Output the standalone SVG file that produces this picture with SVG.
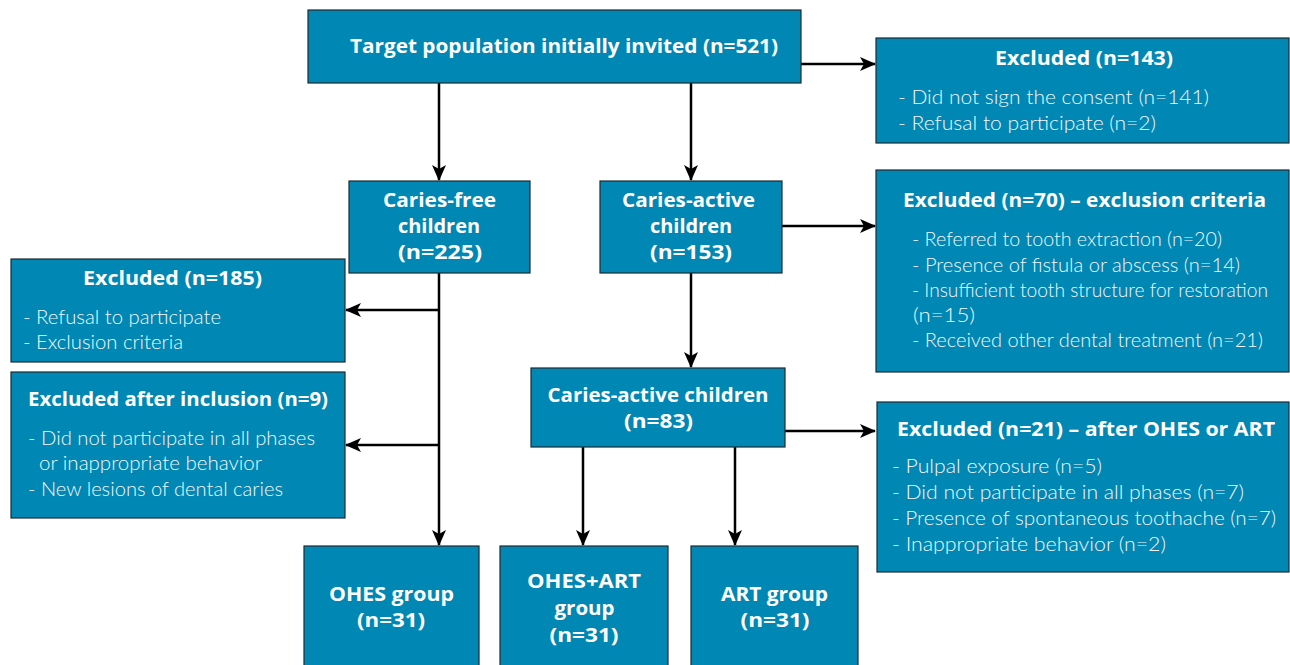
<svg xmlns="http://www.w3.org/2000/svg" width="1290" height="665" viewBox="0 0 1290 665">
<defs>
<style>
.box{fill:#0087b4;stroke:#1c2a30;stroke-width:1.2}
.t{font-family:"Open Sans","Liberation Sans",sans-serif;font-weight:bold;font-size:19.5px;fill:#fff;text-anchor:middle}
.b{font-family:Lato,"Liberation Sans",sans-serif;font-weight:300;font-size:19px;fill:#f2f8fb}
.c{fill:none;stroke:#000;stroke-width:2.5}
</style>
<marker id="ah" markerWidth="16" markerHeight="14" refX="15" refY="7" orient="auto" markerUnits="userSpaceOnUse">
<path d="M0,0 L16,7 L0,14 L4,7 Z" fill="#000"/>
</marker>
</defs>
<g id="connectors">
<path class="c" d="M801,64 H875" marker-end="url(#ah)"/>
<path class="c" d="M439,83 V180" marker-end="url(#ah)"/>
<path class="c" d="M691,83 V180" marker-end="url(#ah)"/>
<path class="c" d="M782,226 H875" marker-end="url(#ah)"/>
<path class="c" d="M439,273 V545" marker-end="url(#ah)"/>
<path class="c" d="M439,310 H346" marker-end="url(#ah)"/>
<path class="c" d="M439,445 H346" marker-end="url(#ah)"/>
<path class="c" d="M691,273 V367" marker-end="url(#ah)"/>
<path class="c" d="M785,431 H875" marker-end="url(#ah)"/>
<path class="c" d="M583,447 V545" marker-end="url(#ah)"/>
<path class="c" d="M735,447 V545" marker-end="url(#ah)"/>
</g>
<g id="target">
<rect class="box" x="308" y="10" width="493" height="73"/>
<text class="t" x="564" y="53" textLength="428" lengthAdjust="spacingAndGlyphs">Target population initially invited (n=521)</text>
</g>
<g id="excl143">
<rect class="box" x="876" y="38" width="413" height="105"/>
<text class="t" x="1084" y="65" textLength="178" lengthAdjust="spacingAndGlyphs">Excluded (n=143)</text>
<text class="b" x="898" y="104" textLength="311" lengthAdjust="spacingAndGlyphs">- Did not sign the consent (n=141)</text>
<text class="b" x="898" y="130" textLength="258" lengthAdjust="spacingAndGlyphs">- Refusal to participate (n=2)</text>
</g>
<g id="cariesfree">
<rect class="box" x="349" y="181" width="181" height="92"/>
<text class="t" x="439.5" y="207" textLength="113" lengthAdjust="spacingAndGlyphs">Caries-free</text>
<text class="t" x="439" y="233" textLength="82" lengthAdjust="spacingAndGlyphs">children</text>
<text class="t" x="440" y="259" textLength="84" lengthAdjust="spacingAndGlyphs">(n=225)</text>
</g>
<g id="cariesactive">
<rect class="box" x="600" y="181" width="182" height="92"/>
<text class="t" x="688.5" y="207" textLength="133" lengthAdjust="spacingAndGlyphs">Caries-active</text>
<text class="t" x="691" y="233" textLength="82" lengthAdjust="spacingAndGlyphs">children</text>
<text class="t" x="691" y="259" textLength="82" lengthAdjust="spacingAndGlyphs">(n=153)</text>
</g>
<g id="excl70">
<rect class="box" x="876" y="170" width="413" height="202"/>
<text class="t" x="1084.5" y="207" textLength="363" lengthAdjust="spacingAndGlyphs">Excluded (n=70) – exclusion criteria</text>
<text class="b" x="912" y="246" textLength="310" lengthAdjust="spacingAndGlyphs">- Referred to tooth extraction (n=20)</text>
<text class="b" x="912" y="272" textLength="328" lengthAdjust="spacingAndGlyphs">- Presence of fistula or abscess (n=14)</text>
<text class="b" x="912" y="297" textLength="356" lengthAdjust="spacingAndGlyphs">- Insufficient tooth structure for restoration</text>
<text class="b" x="913" y="322" textLength="62" lengthAdjust="spacingAndGlyphs">(n=15)</text>
<text class="b" x="912" y="347" textLength="351" lengthAdjust="spacingAndGlyphs">- Received other dental treatment (n=21)</text>
</g>
<g id="excl185">
<rect class="box" x="11" y="259" width="334" height="103"/>
<text class="t" x="172.5" y="285" textLength="179" lengthAdjust="spacingAndGlyphs">Excluded (n=185)</text>
<text class="b" x="23" y="324" textLength="198" lengthAdjust="spacingAndGlyphs">- Refusal to participate</text>
<text class="b" x="23" y="349" textLength="160" lengthAdjust="spacingAndGlyphs">- Exclusion criteria</text>
</g>
<g id="excl9">
<rect class="box" x="11" y="372" width="334" height="146"/>
<text class="t" x="178" y="406" textLength="300" lengthAdjust="spacingAndGlyphs">Excluded after inclusion (n=9)</text>
<text class="b" x="28" y="445" textLength="287" lengthAdjust="spacingAndGlyphs">- Did not participate in all phases</text>
<text class="b" x="39" y="470" textLength="223" lengthAdjust="spacingAndGlyphs">or inappropriate behavior</text>
<text class="b" x="28" y="496" textLength="255" lengthAdjust="spacingAndGlyphs">- New lesions of dental caries</text>
</g>
<g id="cariesactive83">
<rect class="box" x="531" y="368" width="254" height="79"/>
<text class="t" x="658" y="402" textLength="221" lengthAdjust="spacingAndGlyphs">Caries-active children</text>
<text class="t" x="658.5" y="428" textLength="69" lengthAdjust="spacingAndGlyphs">(n=83)</text>
</g>
<g id="excl21">
<rect class="box" x="877" y="402" width="412" height="170"/>
<text class="t" x="1086" y="436" textLength="378" lengthAdjust="spacingAndGlyphs">Excluded (n=21) – after OHES or ART</text>
<text class="b" x="892" y="473" textLength="210" lengthAdjust="spacingAndGlyphs">- Pulpal exposure (n=5)</text>
<text class="b" x="892" y="499" textLength="352" lengthAdjust="spacingAndGlyphs">- Did not participate in all phases (n=7)</text>
<text class="b" x="892" y="525" textLength="384" lengthAdjust="spacingAndGlyphs">- Presence of spontaneous toothache (n=7)</text>
<text class="b" x="892" y="551" textLength="274" lengthAdjust="spacingAndGlyphs">- Inappropriate behavior (n=2)</text>
</g>
<g id="ohes">
<rect class="box" x="304" y="546" width="175" height="125"/>
<text class="t" x="391.5" y="601" textLength="125" lengthAdjust="spacingAndGlyphs">OHES group</text>
<text class="t" x="391" y="627" textLength="68" lengthAdjust="spacingAndGlyphs">(n=31)</text>
</g>
<g id="ohesart">
<rect class="box" x="500" y="546" width="168" height="125"/>
<text class="t" x="584" y="588" textLength="114" lengthAdjust="spacingAndGlyphs">OHES+ART</text>
<text class="t" x="584.5" y="615" textLength="60" lengthAdjust="spacingAndGlyphs">group</text>
<text class="t" x="584" y="642" textLength="69" lengthAdjust="spacingAndGlyphs">(n=31)</text>
</g>
<g id="art">
<rect class="box" x="691" y="546" width="167" height="125"/>
<text class="t" x="774.5" y="601" textLength="107" lengthAdjust="spacingAndGlyphs">ART group</text>
<text class="t" x="775" y="627" textLength="69" lengthAdjust="spacingAndGlyphs">(n=31)</text>
</g>
</svg>
